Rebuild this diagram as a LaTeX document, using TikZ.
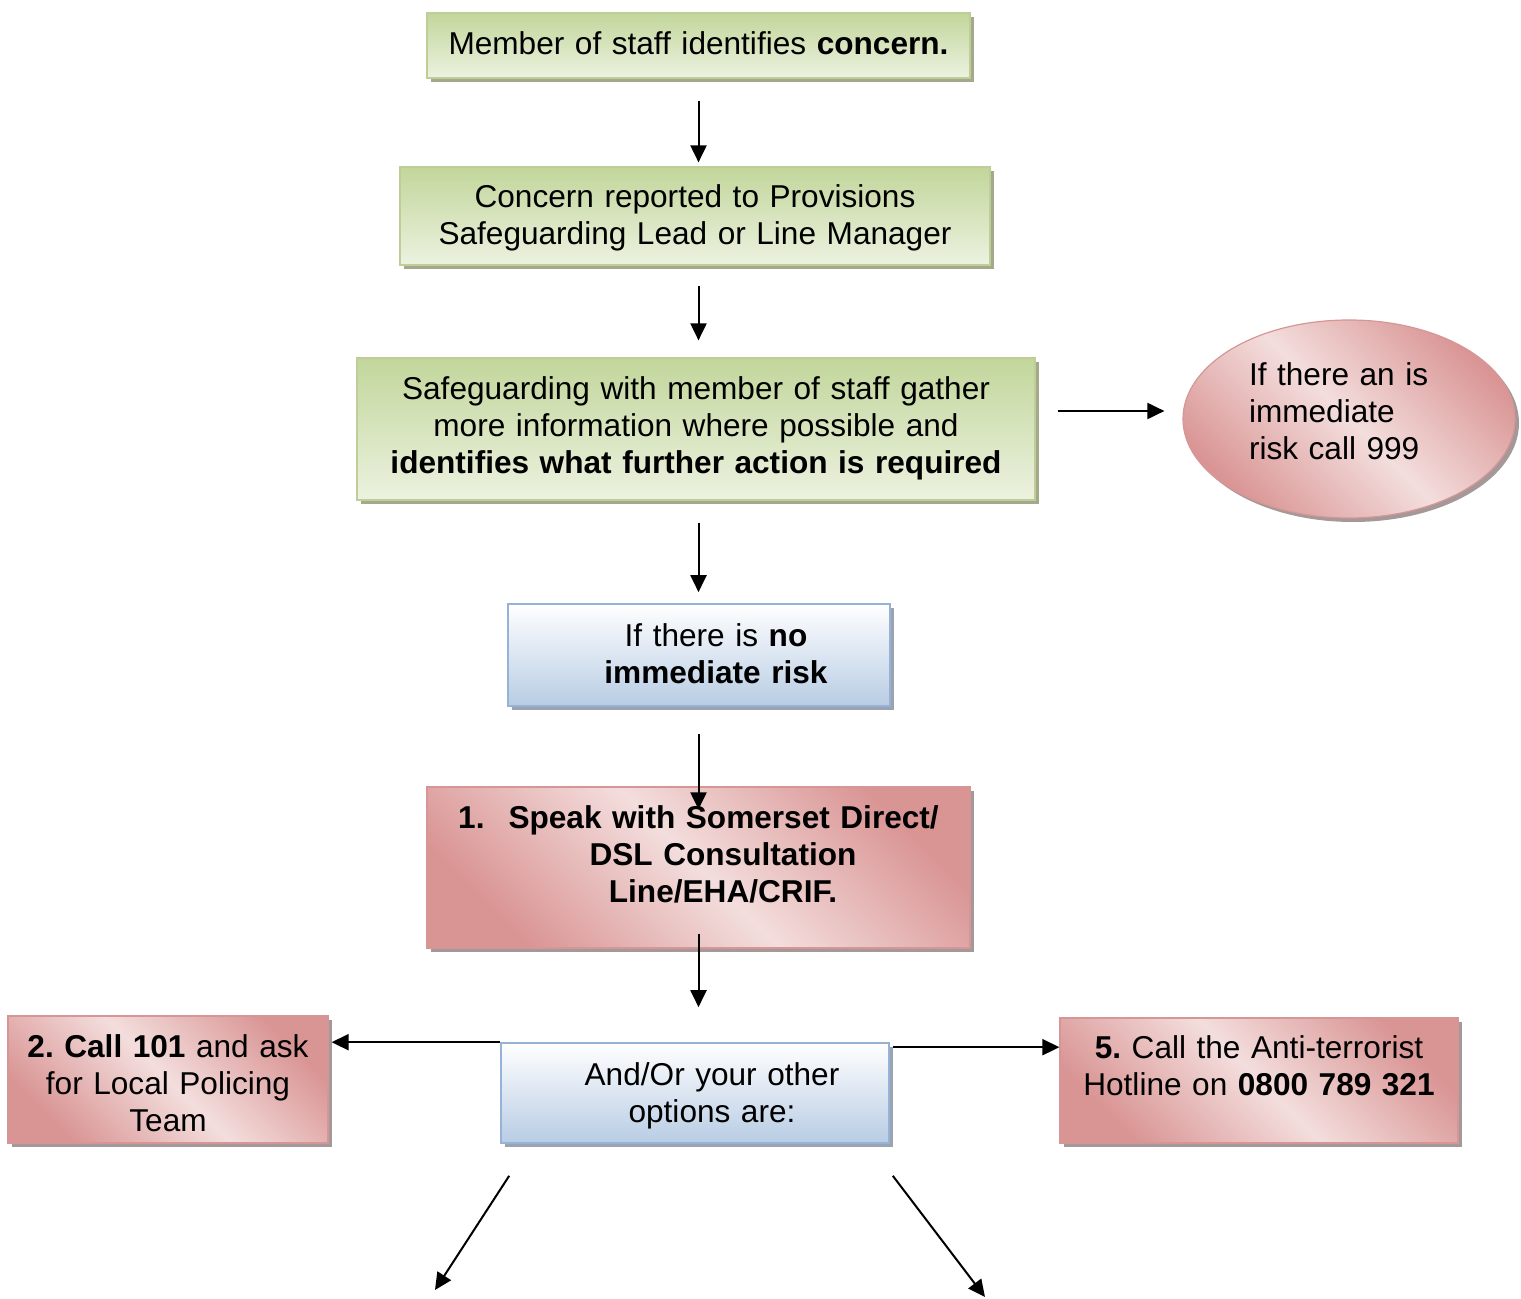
\documentclass[tikz,border=0pt]{standalone}
\usepackage{fontspec}
\setmainfont{Liberation Sans}
\usetikzlibrary{arrows.meta,shapes.geometric,shadows}
\definecolor{grT}{RGB}{194,214,155}
\definecolor{grB}{RGB}{236,242,224}
\definecolor{grE}{RGB}{190,206,150}
\definecolor{grS}{RGB}{163,170,140}
\definecolor{rdD}{RGB}{217,149,148}
\definecolor{rdL}{RGB}{243,222,221}
\definecolor{rdE}{RGB}{214,150,150}
\definecolor{rdS}{RGB}{165,152,152}
\definecolor{blT}{RGB}{255,255,255}
\definecolor{blB}{RGB}{184,204,228}
\definecolor{blE}{RGB}{149,179,215}
\definecolor{blS}{RGB}{155,163,176}
\frenchspacing

\begin{document}
\begin{tikzpicture}[x=0.5pt,y=-0.5pt,
 font=\fontsize{15.8}{18.5}\selectfont,
 box/.style={rectangle,inner sep=0pt,align=center},
 greenbox/.style={box,draw=grE,line width=0.6pt,top color=grT,bottom color=grB,
   drop shadow={fill=grS,opacity=1,shadow xshift=2pt,shadow yshift=-2pt}},
 redbox/.style={box,draw=rdE,line width=0.6pt,top color=rdD,bottom color=rdD,middle color=rdL,shading angle=-45,
   drop shadow={fill=rdS,opacity=1,shadow xshift=2pt,shadow yshift=-2pt}},
 bluebox/.style={box,draw=blE,line width=0.8pt,top color=blT,bottom color=blB,
   drop shadow={fill=blS,opacity=1,shadow xshift=2pt,shadow yshift=-2pt}},
 arr/.style={-{Triangle[length=8.5pt,width=8pt]},line width=1pt}]
\fill[white] (0,0) rectangle (1521,1299);
\useasboundingbox (0,0) rectangle (1521,1299);

\node[greenbox,text width=271.5pt,text height=21pt,text depth=11.5pt] (concern) at (698.5,45.5)
 {Member of staff identifies \textbf{concern.}};
\node[greenbox,text width=295pt,text height=20.5pt,text depth=28.5pt] (report) at (695,216)
 {Concern reported to Provisions\\Safeguarding Lead or Line Manager};
\node[greenbox,text width=339pt,text height=21pt,text depth=50pt] (gather) at (696,429)
 {Safeguarding with member of staff gather\\more information where possible and\\\textbf{identifies what further action is required}};
\node[ellipse,inner sep=0pt,draw=rdE,line width=0.6pt,top color=rdD,bottom color=rdD,middle color=rdL,shading angle=-45,
   drop shadow={fill=rdS,opacity=1,shadow xshift=2pt,shadow yshift=-2pt},
   minimum width=166pt,minimum height=99pt,text width=100pt,align=left,
   text height=12pt,text depth=45pt] (risk) at (1349,419)
 {If there an is\\immediate\\risk call 999};
\node[bluebox,text width=191pt,text height=21pt,text depth=30pt] (norisk) at (699,655)
 {\hspace*{17pt}If there is \textbf{no}\\\hspace*{17pt}\textbf{immediate risk}};
\node[redbox,text width=271.5pt,text height=20.5pt,text depth=60pt] (speak) at (698.5,867.5)
 {\textbf{1.\hspace{12pt}Speak with Somerset Direct/}\\\hspace*{24.5pt}\textbf{DSL Consultation}\\\hspace*{24.5pt}\textbf{Line/EHA/CRIF.}};
\node[redbox,text width=160pt,text height=20.5pt,text depth=43pt] (police) at (168,1079.5)
 {\textbf{2. Call 101} and ask\\for Local Policing\\Team};
\node[bluebox,text width=194pt,text height=21pt,text depth=29pt] (options) at (695,1093)
 {\hspace*{17pt}And/Or your other\\\hspace*{17pt}options are:};
\node[redbox,text width=199pt,text height=20pt,text depth=42.5pt] (terror) at (1259,1080.5)
 {\textbf{5.} Call the Anti-terrorist\\Hotline on \textbf{0800 789 321}};
\coordinate (left) at (435,1290);
\coordinate (right) at (985,1297);

\draw[arr,shorten <=11pt,shorten >=2pt] (concern.south) -- (concern.south |- report.north);
\draw[arr,shorten <=10pt,shorten >=8.5pt] (report.south -| concern.south) -- (gather.north -| concern.south);
\draw[arr,shorten <=11pt,shorten >=9pt] ([yshift=9pt]gather.east) -- ([yshift=9pt]gather.east -| risk.west);
\draw[arr,shorten <=11pt,shorten >=5.5pt] (gather.south -| concern.south) -- (norisk.north -| concern.south);
\draw[arr,shorten <=13.5pt,shorten >=-11.5pt] (norisk.south -| concern.south) -- (speak.north -| concern.south);
\draw[arr,shorten <=-7.5pt,shorten >=17.5pt] (speak.south -| concern.south) -- (options.north -| concern.south);
\draw[arr,shorten >=1.5pt] (options.north west) -- (options.north west -| police.east);
\draw[arr,shorten <=1.5pt] ([yshift=-2.5pt]options.north east) -- ([yshift=-2.5pt]options.north east -| terror.west);
\draw[arr] ([xshift=4.5pt,yshift=-16pt]options.south west) -- (left);
\draw[arr] ([xshift=1.5pt,yshift=-16pt]options.south east) -- (right);
\end{tikzpicture}
\end{document}
